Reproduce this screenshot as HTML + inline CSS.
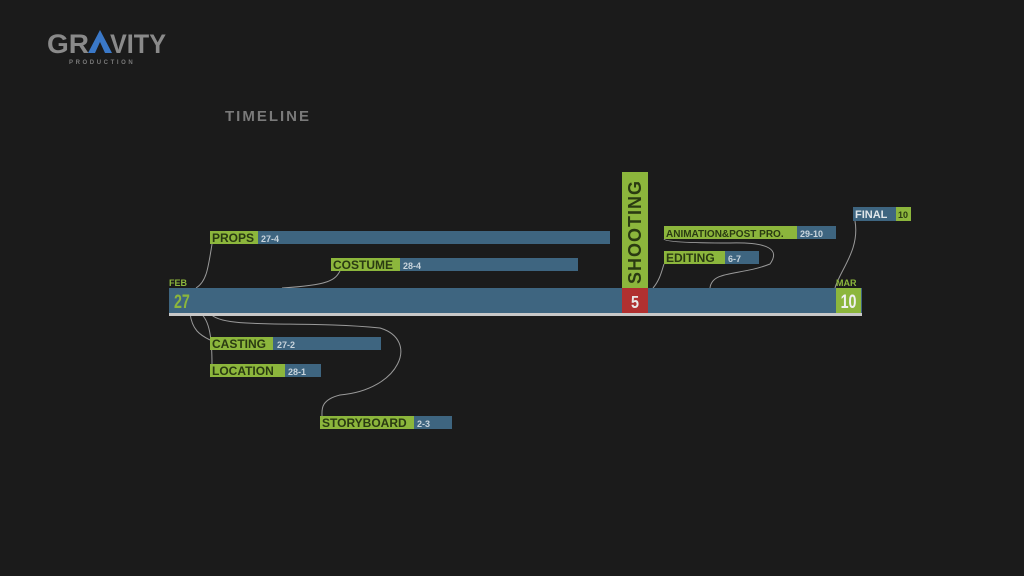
<!DOCTYPE html>
<html><head><meta charset="utf-8"><style>
html,body{margin:0;padding:0;background:#1b1b1b;}
svg{display:block}
text{font-family:"Liberation Sans",sans-serif;font-weight:bold}
</style></head><body>
<svg width="1024" height="576" viewBox="0 0 1024 576" xmlns="http://www.w3.org/2000/svg">
<rect width="1024" height="576" fill="#1b1b1b"/>
<!-- logo -->
<text x="47" y="53" font-size="27" fill="#8a8a8a" textLength="42" lengthAdjust="spacingAndGlyphs">GR</text>
<polygon points="88,53 100,30 112,53 105,53 100,42 95,53" fill="#3a78c8"/>
<text x="110" y="53" font-size="27" fill="#8a8a8a" textLength="56" lengthAdjust="spacingAndGlyphs">VITY</text>
<text x="69" y="64" font-size="6" fill="#7a7a7a" letter-spacing="2.6" font-weight="normal">PRODUCTION</text>
<text x="225" y="121" font-size="15" fill="#7a7a7a" letter-spacing="2">TIMELINE</text>

<!-- connectors -->
<g fill="none" stroke="#9a9a9a" stroke-width="1">
<path d="M196,288 C206,282 208,270 212,244"/>
<path d="M282,288 C330,285 335,280 340,271"/>
<path d="M653,288 C660,280 662,270 664,264"/>
<path d="M710,288 C712,270 740,276 770,264 C780,250 770,242 730,243 C690,243 665,242 664,239"/>
<path d="M835,288 C840,270 860,250 855,221"/>
<path d="M190,313 C192,330 200,335 210,340"/>
<path d="M200,313 C210,320 212,340 212,365"/>
<path d="M210,313 C220,330 300,320 380,328 C420,340 400,390 340,395 C320,400 322,410 322,416"/>
</g>

<!-- main bar -->
<rect x="169" y="288" width="693" height="25" fill="#3e6580"/>
<rect x="169" y="313" width="693" height="3" fill="#c8c8c8"/>
<text x="169" y="286" font-size="9" fill="#8cb63c">FEB</text>
<text transform="translate(174,308) scale(0.75,1)" font-size="19" fill="#8cb63c" font-weight="normal">27</text>
<rect x="622" y="172" width="26" height="116" fill="#8cb63c"/>
<text transform="translate(641,284) rotate(-90)" font-size="18" fill="#2a3a12" letter-spacing="1">SHOOTING</text>
<rect x="622" y="288" width="26" height="25" fill="#b03030"/>
<text transform="translate(635,308) scale(0.8,1)" font-size="18" fill="#e8e8e8" text-anchor="middle" font-weight="normal">5</text>
<rect x="836" y="288" width="25" height="25" fill="#8cb63c"/>
<text transform="translate(848.5,308) scale(0.75,1)" font-size="19" fill="#f0f0f0" text-anchor="middle" font-weight="normal">10</text>
<text x="836" y="286" font-size="9" fill="#8cb63c">MAR</text>

<!-- tasks -->
<g font-size="11">
<rect x="258" y="231" width="352" height="13" fill="#3e6580"/>
<rect x="210" y="231" width="48" height="13" fill="#8cb63c"/>
<text x="212" y="242" fill="#2a3a12" font-size="12">PROPS</text>
<text x="261" y="242" fill="#c8d4dc" font-size="9">27-4</text>

<rect x="400" y="258" width="178" height="13" fill="#3e6580"/>
<rect x="331" y="258" width="69" height="13" fill="#8cb63c"/>
<text x="333" y="269" fill="#2a3a12" font-size="12">COSTUME</text>
<text x="403" y="269" fill="#c8d4dc" font-size="9">28-4</text>

<rect x="797" y="226" width="39" height="13" fill="#3e6580"/>
<rect x="664" y="226" width="133" height="13" fill="#8cb63c"/>
<text x="666" y="237" fill="#2a3a12" font-size="10">ANIMATION&amp;POST PRO.</text>
<text x="800" y="237" fill="#c8d4dc" font-size="9">29-10</text>

<rect x="725" y="251" width="34" height="13" fill="#3e6580"/>
<rect x="664" y="251" width="61" height="13" fill="#8cb63c"/>
<text x="666" y="262" fill="#2a3a12" font-size="12">EDITING</text>
<text x="728" y="262" fill="#c8d4dc" font-size="9">6-7</text>

<rect x="853" y="207" width="43" height="14" fill="#3e6580"/>
<rect x="896" y="207" width="15" height="14" fill="#8cb63c"/>
<text x="855" y="218" fill="#e0e6ea" font-size="11">FINAL</text>
<text x="898" y="218" fill="#2a3a12" font-size="9">10</text>

<rect x="273" y="337" width="108" height="13" fill="#3e6580"/>
<rect x="210" y="337" width="63" height="13" fill="#8cb63c"/>
<text x="212" y="348" fill="#2a3a12" font-size="12">CASTING</text>
<text x="277" y="348" fill="#c8d4dc" font-size="9">27-2</text>

<rect x="285" y="364" width="36" height="13" fill="#3e6580"/>
<rect x="210" y="364" width="75" height="13" fill="#8cb63c"/>
<text x="212" y="375" fill="#2a3a12" font-size="12">LOCATION</text>
<text x="288" y="375" fill="#c8d4dc" font-size="9">28-1</text>

<rect x="414" y="416" width="38" height="13" fill="#3e6580"/>
<rect x="320" y="416" width="94" height="13" fill="#8cb63c"/>
<text x="322" y="427" fill="#2a3a12" font-size="12">STORYBOARD</text>
<text x="417" y="427" fill="#c8d4dc" font-size="9">2-3</text>
</g>
</svg>
</body></html>
